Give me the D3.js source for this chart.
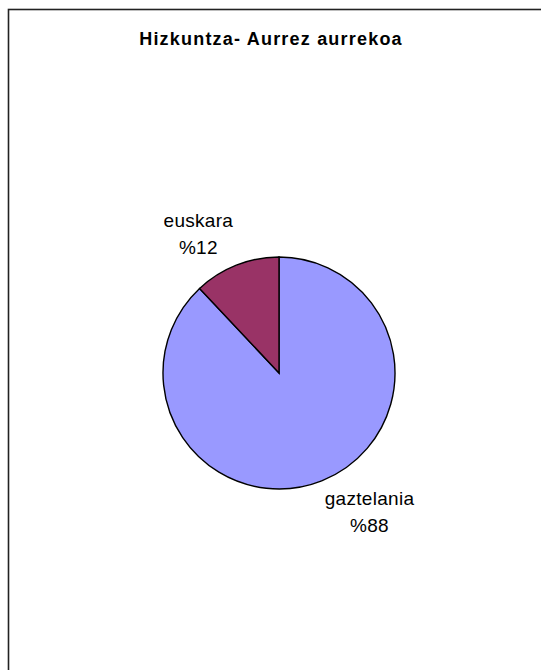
<!DOCTYPE html>
<html>
<head>
<meta charset="utf-8">
<script src="https://cdn.jsdelivr.net/npm/d3@7"></script>
<style>
  body { margin: 0; background: #fff; }
  text { font-family: "Liberation Sans", Arial, sans-serif; fill: #000; }
</style>
</head>
<body>
<div id="chart"></div>
<script>
// Data
const categories = ["gaztelania", "euskara"];
const values = [88, 12];
const labels = ["%88", "%12"];
const colors = ["#9999FF", "#993366"];

const W = 541, H = 670;
const cx = 279, cy = 373, radius = 116;

const svg = d3.select("#chart")
    .append("svg")
    .attr("width", W)
    .attr("height", H);

// Chart border (runs off the right and bottom edge)
svg.append("rect")
    .attr("x", 8.5)
    .attr("y", 9.5)
    .attr("width", 620)
    .attr("height", 700)
    .attr("fill", "#fff")
    .attr("stroke", "#222")
    .attr("stroke-width", 1.6);

// Title
svg.append("text")
    .attr("x", 271)
    .attr("y", 45)
    .attr("text-anchor", "middle")
    .style("font-size", "18px")
    .style("font-weight", "bold")
    .style("letter-spacing", "1.2px")
    .text("Hizkuntza- Aurrez aurrekoa");

const data = categories.map((c, i) => ({ name: c, value: values[i], label: labels[i], color: colors[i] }));

const pie = d3.pie()
    .value(d => d.value)
    .sort(null);

const arc = d3.arc()
    .innerRadius(0)
    .outerRadius(radius);

const arcs = pie(data);

const g = svg.append("g")
    .attr("transform", `translate(${cx},${cy})`);

g.selectAll("path")
    .data(arcs)
    .enter()
    .append("path")
    .attr("d", arc)
    .attr("fill", d => d.data.color)
    .attr("stroke", "#000")
    .attr("stroke-width", 1.4);

// Labels just outside each slice, box pushed away from the pie
const labelR = radius + 8;
arcs.forEach(d => {
    const mid = (d.startAngle + d.endAngle) / 2;
    const px = Math.sin(mid) * labelR;
    const py = -Math.cos(mid) * labelR;

    const t = g.append("text")
        .attr("text-anchor", "middle")
        .style("font-size", "19px")
        .style("letter-spacing", "0.3px");
    t.append("tspan").attr("x", 0).attr("dy", 0).text(d.data.name);
    t.append("tspan").attr("x", 0).attr("dy", 27).text(d.data.label);

    const bb = t.node().getBBox();
    const tx = px + Math.sign(px) * bb.width / 2 - (bb.x + bb.width / 2);
    const ty = py + Math.sign(py) * bb.height / 2 - (bb.y + bb.height / 2);
    t.attr("transform", `translate(${tx},${ty})`);
});
</script>
</body>
</html>
